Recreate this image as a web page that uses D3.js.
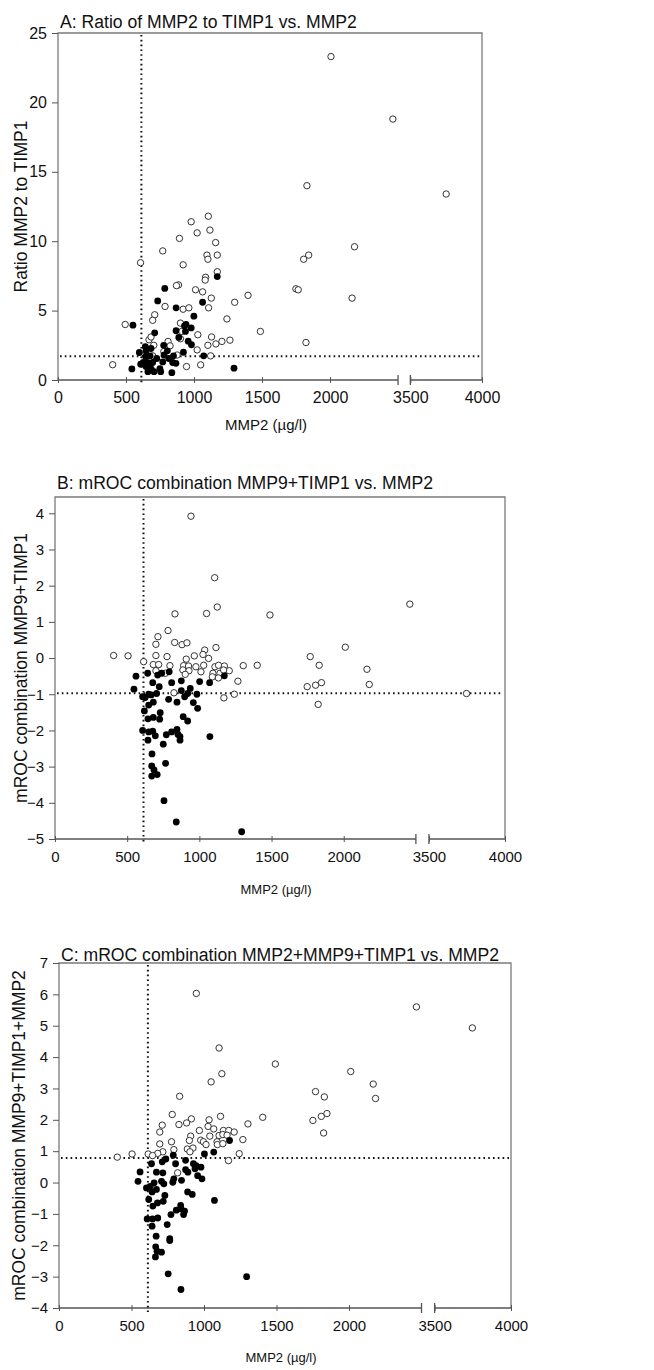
<!DOCTYPE html>
<html><head><meta charset="utf-8">
<script src="https://cdn.jsdelivr.net/npm/d3@7"></script>
<style>body{margin:0;background:#fff}svg{display:block}</style>
</head><body>
<svg id="c" width="654" height="1370"></svg>
<script>
// ---------- DATA ----------
const xTicks = [0, 500, 1000, 1500, 2000, 3500, 4000];
const cutX = 613;

const aTitle = "A: Ratio of MMP2 to TIMP1 vs. MMP2";
const aYLabel = "Ratio MMP2 to TIMP1";
const aYTicks = [0, 5, 10, 15, 20, 25];
const aCutY = 1.72;
const aOpen = [[2007,23.3],[2462,18.8],[1830,14.0],[3750,13.4],[979,11.4],[1105,11.8],[1023,10.6],[1117,10.8],[893,10.2],[770,9.3],[1159,9.9],[1095,9.0],[1171,9.0],[1102,8.7],[920,8.3],[607,8.45],[1171,7.8],[1085,7.4],[1082,7.2],[886,6.85],[871,6.8],[1011,6.5],[1063,6.35],[1397,6.1],[1127,5.9],[1299,5.6],[787,5.3],[920,5.1],[962,5.2],[1107,5.2],[711,4.7],[696,4.3],[1242,4.4],[494,4.0],[900,4.1],[910,3.5],[1488,3.5],[1028,3.26],[900,2.97],[1129,3.1],[1264,2.87],[1205,2.78],[1161,2.6],[1102,2.5],[1823,2.7],[669,2.9],[684,3.1],[809,2.78],[824,2.46],[704,2.5],[1023,2.17],[876,1.8],[1122,1.74],[778,2.05],[402,1.1],[696,1.74],[945,0.97],[1049,1.09],[2180,9.6],[1843,9.0],[1806,8.7],[1749,6.57],[1766,6.5],[2162,5.9]];
const aFilled = [[1171,7.45],[785,6.6],[733,5.7],[1063,5.6],[868,5.2],[999,4.6],[551,3.95],[930,3.9],[941,4.0],[868,3.55],[979,3.75],[937,3.5],[711,3.4],[888,3.07],[957,2.8],[981,2.54],[777,2.5],[684,2.27],[642,2.4],[543,0.8],[598,1.98],[647,2.1],[677,1.74],[608,1.14],[627,1.26],[657,1.26],[647,0.97],[677,1.0],[661,0.6],[686,0.77],[706,0.6],[696,1.26],[726,1.55],[749,0.82],[755,0.6],[770,1.3],[804,2.1],[814,1.55],[837,0.53],[849,1.74],[843,1.26],[867,1.2],[922,2.0],[1071,1.74],[1294,0.85],[644,1.7],[780,1.8]];

const bTitle = "B: mROC combination MMP9+TIMP1 vs. MMP2";
const bYLabel = "mROC combination MMP9+TIMP1";
const bYTicks = [-5, -4, -3, -2, -1, 0, 1, 2, 3, 4];
const bCutY = -0.97;
const bOpen = [[942,3.92],[1106,2.22],[2458,1.49],[831,1.22],[1050,1.23],[1124,1.41],[1489,1.19],[783,0.76],[713,0.59],[406,0.07],[506,0.06],[699,0.38],[829,0.43],[880,0.37],[914,0.42],[1037,0.22],[1115,0.29],[2011,0.3],[1768,0.04],[699,0.07],[776,0.04],[965,0.06],[1025,0.1],[1064,-0.01],[909,-0.03],[614,-0.1],[681,-0.18],[718,-0.18],[796,-0.21],[891,-0.21],[925,-0.22],[976,-0.24],[1030,-0.2],[1108,-0.24],[1133,-0.2],[1173,-0.22],[1304,-0.21],[1401,-0.2],[1830,-0.2],[699,-0.35],[764,-0.42],[886,-0.33],[928,-0.35],[902,-0.45],[1011,-0.38],[1094,-0.42],[1143,-0.42],[1207,-0.35],[1168,-0.33],[1090,-0.52],[1132,-0.55],[1267,-0.64],[2161,-0.31],[2177,-0.73],[1747,-0.79],[1805,-0.75],[1846,-0.68],[1823,-1.28],[3747,-0.98],[824,-0.96],[1170,-1.1],[1242,-1.0]];
const bFilled = [[1173,-0.49],[1071,-0.68],[1002,-0.65],[875,-0.63],[808,-0.68],[791,-0.38],[739,-0.42],[642,-0.42],[711,-0.47],[561,-0.5],[677,-0.68],[722,-0.79],[547,-0.86],[607,-1.07],[625,-1.09],[649,-1.0],[667,-1.02],[704,-0.98],[649,-1.3],[681,-1.22],[875,-0.9],[919,-0.98],[898,-1.07],[937,-0.84],[983,-1.0],[787,-1.14],[845,-1.22],[958,-1.23],[988,-1.39],[619,-1.46],[644,-1.68],[681,-1.64],[729,-1.51],[725,-1.69],[888,-1.62],[919,-1.74],[607,-2.0],[649,-2.04],[677,-2.02],[695,-2.15],[644,-2.27],[771,-2.12],[808,-2.04],[845,-1.97],[852,-2.11],[866,-2.17],[866,-2.27],[750,-2.38],[1073,-2.17],[672,-2.65],[670,-2.98],[766,-2.91],[686,-3.09],[708,-3.22],[670,-3.26],[755,-3.94],[840,-4.53],[1293,-4.8]];

const cTitle = "C: mROC combination MMP2+MMP9+TIMP1 vs. MMP2";
const cYLabel = "mROC combination MMP9+TIMP1+MMP2";
const cYTicks = [-4, -3, -2, -1, 0, 1, 2, 3, 4, 5, 6, 7];
const cCutY = 0.78;
const cOpen = [[947,6.03],[2465,5.6],[3747,4.93],[1104,4.29],[1492,3.78],[1123,3.47],[1049,3.21],[2012,3.54],[2167,3.14],[2183,2.68],[1769,2.9],[1830,2.73],[832,2.75],[781,2.17],[913,2.03],[1035,2.0],[1114,2.11],[1405,2.08],[1751,1.98],[1809,2.11],[1848,2.2],[712,1.83],[827,1.85],[880,1.9],[1028,1.79],[1067,1.71],[1303,1.87],[1825,1.58],[695,1.61],[968,1.66],[1040,1.48],[908,1.48],[1104,1.5],[1134,1.66],[1171,1.66],[1208,1.61],[1130,1.53],[1159,1.51],[776,1.3],[977,1.35],[996,1.3],[899,1.34],[1090,1.3],[1268,1.37],[695,1.23],[1014,1.21],[1092,1.21],[1130,1.24],[885,1.07],[924,1.1],[792,1.05],[903,0.98],[716,0.98],[681,0.93],[615,0.91],[504,0.91],[402,0.81],[1243,0.92],[1169,0.7],[818,0.31],[645,0.86]];
const cFilled = [[1176,1.34],[1067,0.97],[1003,0.91],[788,0.87],[737,0.75],[712,0.66],[638,0.6],[873,0.71],[804,0.6],[927,0.6],[945,0.54],[938,0.44],[979,0.49],[873,0.41],[889,0.33],[672,0.33],[716,0.31],[559,0.34],[545,0.04],[603,-0.17],[629,-0.12],[656,-0.01],[672,-0.22],[642,-0.3],[707,0.04],[723,-0.04],[785,0.01],[792,0.12],[845,0.07],[956,0.22],[986,0.12],[887,-0.3],[919,-0.38],[730,-0.41],[619,-0.54],[679,-0.65],[719,-0.6],[647,-0.75],[1072,-0.57],[839,-0.73],[842,-0.84],[809,-0.88],[866,-0.91],[859,-1.02],[772,-1.02],[608,-1.16],[645,-1.16],[681,-1.13],[642,-1.39],[746,-1.34],[670,-1.71],[764,-1.79],[764,-1.85],[667,-2.05],[676,-2.19],[707,-2.22],[665,-2.37],[753,-2.91],[841,-3.41],[1294,-3.0]];

// ---------- DRAW ----------
const svg = d3.select("#c");
const FONT = "'Liberation Sans', Arial, sans-serif";

function panel(cfg) {
  const g = svg.append("g");
  const W = cfg.R - cfg.L;
  const x = d3.scaleLinear()
    .domain([0, 2500, 3500, 4000])
    .range([cfg.L, cfg.L + 0.802 * W, cfg.L + 0.831 * W, cfg.R]);
  const y = d3.scaleLinear().domain(cfg.yDom).range([cfg.B, cfg.T]);

  // frame: left, top, right
  g.append("path")
    .attr("d", `M${cfg.L},${cfg.B}V${cfg.T}H${cfg.R}V${cfg.B}`)
    .attr("fill", "none").attr("stroke", "#7a7a7a").attr("stroke-width", 1.3);

  // y axis ticks
  const ya = g.append("g").attr("transform", `translate(${cfg.L},0)`)
    .call(d3.axisLeft(y).tickValues(cfg.yTicks).tickSize(6).tickPadding(5).tickFormat(d3.format("d")));
  ya.select(".domain").remove();
  ya.selectAll("line").attr("stroke", "#555");
  ya.selectAll("text").attr("font-family", FONT).attr("font-size", cfg.tickFs).attr("fill", "#111");

  // x axis with break
  const xa = g.append("g").attr("transform", `translate(0,${cfg.B})`)
    .call(d3.axisBottom(x).tickValues(xTicks).tickSize(5).tickPadding(cfg.xPad).tickFormat(d3.format("d")));
  xa.select(".domain").remove();
  xa.selectAll("line").attr("stroke", "#555").attr("y1", -3).attr("y2", 3);
  xa.selectAll("text").attr("font-family", FONT).attr("font-size", cfg.tickFs).attr("fill", "#111");
  const b1 = x(2500), b2 = x(3500);
  g.append("path")
    .attr("d", `M${cfg.L},${cfg.B}H${b1}M${b2},${cfg.B}H${cfg.R}` +
      `M${b1},${cfg.B - 5}V${cfg.B + 5}M${b2},${cfg.B - 5}V${cfg.B + 5}`)
    .attr("fill", "none").attr("stroke", "#555").attr("stroke-width", 1.3);

  // cutoff lines
  g.append("line").attr("x1", x(cutX)).attr("x2", x(cutX))
    .attr("y1", cfg.T + 2).attr("y2", cfg.B + 4)
    .attr("stroke", "#111").attr("stroke-width", 2).attr("stroke-dasharray", "1.6,3.2");
  g.append("line").attr("x1", cfg.L + 2).attr("x2", cfg.R - 2)
    .attr("y1", y(cfg.cutY)).attr("y2", y(cfg.cutY))
    .attr("stroke", "#111").attr("stroke-width", 2).attr("stroke-dasharray", "1.6,3.2");

  // points
  g.append("g").selectAll("circle").data(cfg.open).join("circle")
    .attr("cx", d => x(d[0])).attr("cy", d => y(d[1])).attr("r", 3.2)
    .attr("fill", "#fff").attr("stroke", "#333").attr("stroke-width", 1);
  g.append("g").selectAll("circle").data(cfg.filled).join("circle")
    .attr("cx", d => x(d[0])).attr("cy", d => y(d[1])).attr("r", 3.4)
    .attr("fill", "#000");

  // titles
  g.append("text").attr("x", cfg.L + 2).attr("y", cfg.titleY)
    .attr("font-family", FONT).attr("font-size", 17.6).attr("fill", "#111").text(cfg.title);
  g.append("text").attr("transform", `translate(${cfg.ylx},${(cfg.T + cfg.B) / 2}) rotate(-90)`)
    .attr("text-anchor", "middle").attr("font-family", FONT).attr("font-size", cfg.ylFs)
    .attr("fill", "#111").text(cfg.yLabel);
  g.append("text").attr("x", (cfg.L + cfg.R) / 2 - 4).attr("y", cfg.xtY)
    .attr("text-anchor", "middle").attr("font-family", FONT).attr("font-size", cfg.xtFs)
    .attr("fill", "#111").text("MMP2 (µg/l)");
}

panel({L: 58, R: 482, T: 33, B: 380, yDom: [0, 25], yTicks: aYTicks, cutY: aCutY,
  open: aOpen, filled: aFilled, title: aTitle, titleY: 28, yLabel: aYLabel, ylx: 27,
  ylFs: 17.5, tickFs: 16, xPad: 7, xtY: 430, xtFs: 15});
panel({L: 55, R: 505, T: 497, B: 839, yDom: [-5, 4.45], yTicks: bYLabel ? bYTicks : [], cutY: bCutY,
  open: bOpen, filled: bFilled, title: bTitle, titleY: 489, yLabel: bYLabel, ylx: 27,
  ylFs: 17.5, tickFs: 15, xPad: 7, xtY: 894, xtFs: 13});
panel({L: 59, R: 511, T: 963, B: 1308, yDom: [-4, 7], yTicks: cYTicks, cutY: cCutY,
  open: cOpen, filled: cFilled, title: cTitle, titleY: 961, yLabel: cYLabel, ylx: 25,
  ylFs: 17.5, tickFs: 15, xPad: 7, xtY: 1362, xtFs: 13});
</script>
</body></html>
